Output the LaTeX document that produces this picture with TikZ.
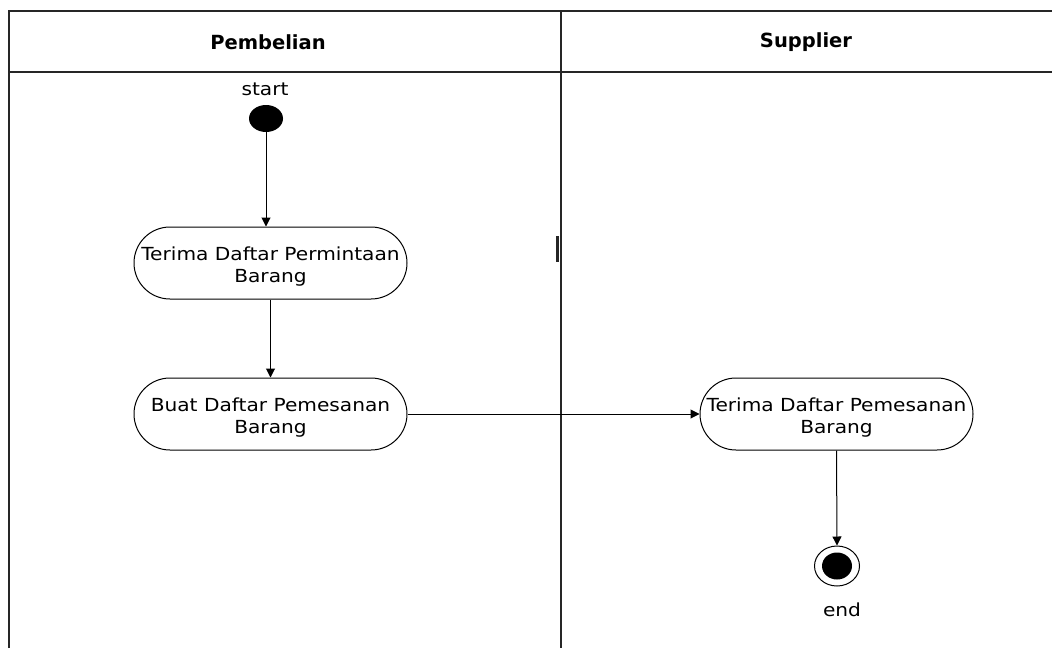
\documentclass[tikz,border=0pt]{standalone}
\usepackage{fontspec}
\setmainfont{DejaVu Sans}
\newfontfamily\widesans[FakeStretch=1.12]{DejaVu Sans}
\usetikzlibrary{arrows.meta,shapes.misc,shapes.geometric}
\begin{document}
\begin{tikzpicture}[x=1pt,y=-1pt,
  lane/.style={draw=black!85,line width=1.4pt},
  activity/.style={draw,line width=1pt,rounded rectangle,minimum width=273pt,minimum height=72pt,inner sep=0pt},
  acttext/.style={align=center,font=\widesans\fontsize{18}{22}\selectfont,inner sep=0pt,yshift=-4pt},
  flow/.style={draw,line width=1pt,-{Triangle[length=9pt,width=9pt]}},
  lbl/.style={font=\widesans\fontsize{18}{21}\selectfont},
  hdr/.style={font=\bfseries\fontsize{19.5}{22}\selectfont}]
\useasboundingbox (0,0) rectangle (1052,648);
% swimlane frame
\draw[lane] (9,648) -- (9,11) -- (1052,11);
\draw[lane] (9,72) -- (1052,72);
\draw[lane] (561,11) -- (561,648);
\fill[black!85] (556,236) rectangle (559,262);
\node[hdr] (h1) at (268,42) {Pembelian};
\node[hdr] (h2) at (806,42) {Supplier};
% initial state
\node[ellipse,fill=black,minimum width=34pt,minimum height=27pt,inner sep=0pt] (start) at (266,118.5) {};
\node[lbl] (startlbl) at (265,89) {start};
% activities
\node[activity] (a1) at (270.5,263) {};
\node[acttext] (t1) at (a1.center) {Terima Daftar Permintaan\\Barang};
\node[activity] (a2) at (270.5,414) {};
\node[acttext] (t2) at (a2.center) {Buat Daftar Pemesanan\\Barang};
\node[activity] (a3) at (836.5,414) {};
\node[acttext] (t3) at (a3.center) {Terima Daftar Pemesanan\\Barang};
% final state
\node[ellipse,draw,line width=1pt,minimum width=45pt,minimum height=40pt,inner sep=0pt] (end) at (837,566) {};
\node[ellipse,fill=black,minimum width=30pt,minimum height=27pt,inner sep=0pt] (endin) at (837,566) {};
\node[lbl] (endlbl) at (842,610) {end};
% transitions
\draw[flow] (start.south) -- (start.south |- a1.north);
\draw[flow] (a1.south) -- (a2.north);
\draw[flow] (a2.east) -- (a3.west);
\draw[flow] (a3.south) -- (end.north);
\end{tikzpicture}
\end{document}
